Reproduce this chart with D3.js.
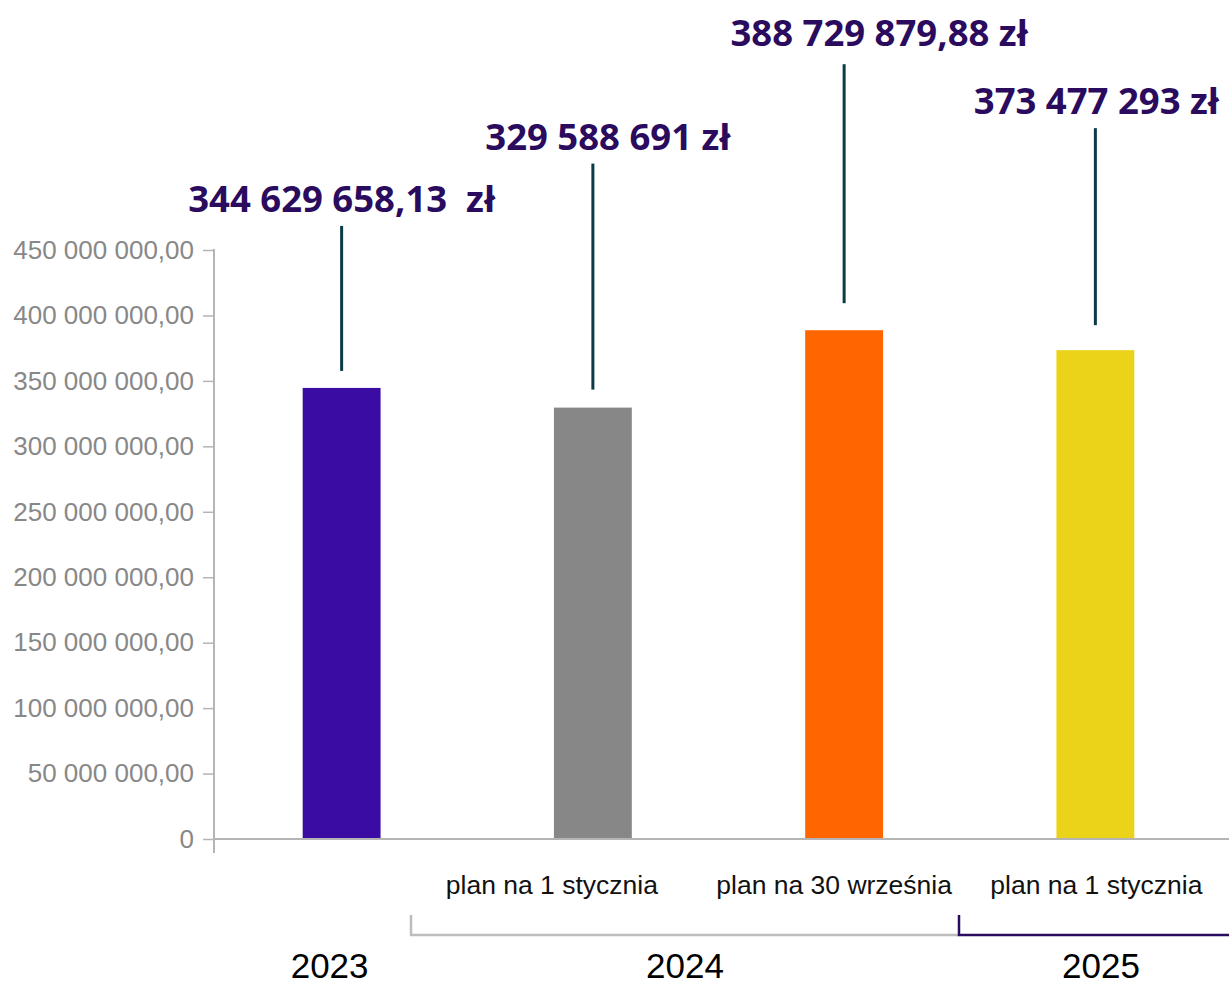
<!DOCTYPE html>
<html>
<head>
<meta charset="utf-8">
<script src="https://cdn.jsdelivr.net/npm/d3@7"></script>
<style>
  body { margin: 0; background: #fff; }
  svg { display: block; }
</style>
</head>
<body>
<div id="chart"></div>
<script>
// data
const categories = ["2023", "plan na 1 stycznia", "plan na 30 września", "plan na 1 stycznia "];
const values = [344629658.13, 329588691, 388729879.88, 373477293];
const valueLabels = ["344 629 658,13  zł", "329 588 691 zł", "388 729 879,88 zł", "373 477 293 zł"];
const barColors = ["#3b0ca3", "#878787", "#ff6600", "#ebd31a"];
const yTicks = [0, 50e6, 100e6, 150e6, 200e6, 250e6, 300e6, 350e6, 400e6, 450e6];
const years = ["2023", "2024", "2025"];

// label nudges (annotation layout, not data)
const labelDx = [0, 15, 35, 1];
const labelLift = [176, 258, 284, 236];
const catDx = [0, -41, -10, 1];

const width = 1229, height = 983;

let svg = d3.select("#chart").append("svg")
    .attr("width", width)
    .attr("height", height);

let x = d3.scaleBand()
    .domain(categories)
    .range([216, 1221])
    .paddingInner(0.69)
    .paddingOuter(0.345);

let y = d3.scaleLinear()
    .domain([0, 450e6])
    .range([839, 250]);

let fmt = (v) => v === 0 ? "0" : d3.format(",.2f")(v).replace(/,/g, " ").replace(/\.(\d\d)$/, ",$1");

// y axis
let yAxis = svg.append("g")
    .attr("transform", "translate(214,0)")
    .call(d3.axisLeft(y).tickValues(yTicks).tickSize(11).tickSizeOuter(0).tickPadding(9).tickFormat(fmt));
yAxis.select(".domain").remove();
yAxis.selectAll(".tick line").attr("stroke", "#b5b5b5").attr("stroke-width", 1.5);
yAxis.selectAll(".tick text")
    .attr("fill", "#888888")
    .attr("font-family", "Liberation Sans, Arial, sans-serif")
    .attr("font-size", 26);

svg.append("line")
    .attr("x1", 214).attr("x2", 214)
    .attr("y1", 249).attr("y2", 853)
    .attr("stroke", "#b5b5b5").attr("stroke-width", 2);

// bars
svg.append("g").selectAll("rect")
    .data(values)
    .enter().append("rect")
    .attr("x", (d, i) => x(categories[i]))
    .attr("width", x.bandwidth())
    .attr("y", (d) => y(d))
    .attr("height", (d) => y(0) - y(d))
    .attr("fill", (d, i) => barColors[i]);

// baseline
svg.append("line")
    .attr("x1", 214).attr("x2", width)
    .attr("y1", y(0)).attr("y2", y(0))
    .attr("stroke", "#b5b5b5").attr("stroke-width", 2);

// leader lines + value labels
let cx = (i) => x(categories[i]) + x.bandwidth() / 2;
let leaderGap = [17, 18, 27, 25];

svg.append("g").selectAll("line")
    .data(values)
    .enter().append("line")
    .attr("x1", (d, i) => cx(i)).attr("x2", (d, i) => cx(i))
    .attr("y1", (d, i) => y(d) - leaderGap[i])
    .attr("y2", (d, i) => y(d) - labelLift[i] + 14 + (i === 2 ? 4 : 0))
    .attr("stroke", "#0c3a48")
    .attr("stroke-width", 3);

svg.append("g").selectAll("text")
    .data(values)
    .enter().append("text")
    .attr("x", (d, i) => cx(i) + labelDx[i])
    .attr("y", (d, i) => y(d) - labelLift[i])
    .attr("text-anchor", "middle")
    .attr("font-family", "Open Sans, sans-serif")
    .attr("font-weight", 700)
    .attr("font-size", 36.5)
    .attr("fill", "#2a0b5e")
    .style("white-space", "pre")
    .text((d, i) => valueLabels[i]);

// category labels (skip the first, it is only a year)
svg.append("g").selectAll("text")
    .data(categories.slice(1))
    .enter().append("text")
    .attr("x", (d, i) => cx(i + 1) + catDx[i + 1])
    .attr("y", 894)
    .attr("text-anchor", "middle")
    .attr("font-family", "Liberation Sans, Arial, sans-serif")
    .attr("font-size", 26.5)
    .attr("fill", "#111")
    .text((d) => d.trim());

// year brackets
svg.append("path")
    .attr("d", "M411,915V935H959")
    .attr("fill", "none")
    .attr("stroke", "#bdbdbd").attr("stroke-width", 2.5);
svg.append("path")
    .attr("d", "M959,915V935H" + width)
    .attr("fill", "none")
    .attr("stroke", "#2a0b5e").attr("stroke-width", 2.5);

let yearX = [cx(0) - 12, (411 + 959) / 2, (959 + width) / 2 + 7];
svg.append("g").selectAll("text")
    .data(years)
    .enter().append("text")
    .attr("x", (d, i) => yearX[i])
    .attr("y", 978)
    .attr("text-anchor", "middle")
    .attr("font-family", "Liberation Sans, Arial, sans-serif")
    .attr("font-size", 35)
    .attr("fill", "#000")
    .text((d) => d);
</script>
</body>
</html>
